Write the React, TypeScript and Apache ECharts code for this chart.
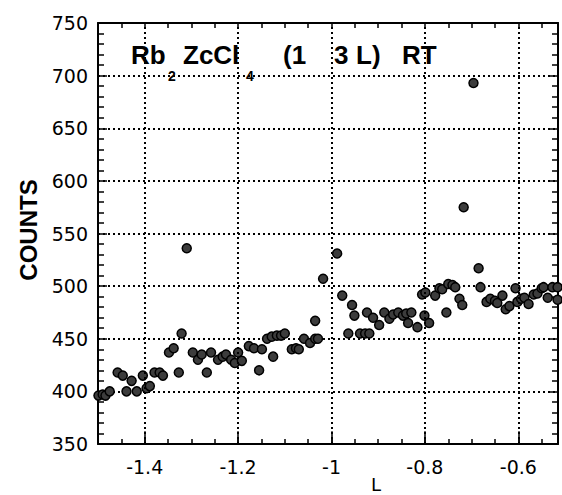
import React, { useEffect, useRef } from 'react';
import * as echarts from 'echarts';

const lValues = [
  -1.499, -1.49, -1.484, -1.475, -1.458, -1.447, -1.439, -1.428, -1.417, -1.404,
  -1.396, -1.389, -1.379, -1.368, -1.361, -1.348, -1.338, -1.327, -1.321, -1.31,
  -1.297, -1.286, -1.278, -1.267, -1.258, -1.243, -1.233, -1.226, -1.215, -1.207,
  -1.2, -1.192, -1.177, -1.166, -1.155, -1.149, -1.138, -1.128, -1.125, -1.117,
  -1.108, -1.1, -1.085, -1.076, -1.07, -1.059, -1.046, -1.035, -1.029, -1.035,
  -1.018, -0.988, -0.977, -0.956, -0.951, -0.964, -0.939, -0.928, -0.919, -0.924,
  -0.911, -0.898, -0.887, -0.876, -0.868, -0.857, -0.847, -0.84, -0.836, -0.829,
  -0.816, -0.806, -0.799, -0.801, -0.791, -0.778, -0.769, -0.763, -0.754, -0.75,
  -0.741, -0.735, -0.726, -0.72, -0.717, -0.696, -0.685, -0.681, -0.668, -0.66,
  -0.65, -0.645, -0.634, -0.627, -0.619, -0.606, -0.602, -0.594, -0.587, -0.578,
  -0.567, -0.559, -0.55, -0.546, -0.537, -0.527, -0.516, -0.516,
];

const counts = [
  396, 397, 396, 400, 418, 415, 400, 410, 400, 415,
  403, 405, 418, 418, 415, 437, 441, 418, 455, 536,
  437, 430, 435, 418, 437, 430, 433, 435, 430, 427,
  437, 429, 443, 441, 420, 440, 450, 452, 433, 453,
  453, 455, 440, 441, 440, 450, 446, 450, 450, 467,
  507, 531, 491, 482, 472, 455, 455, 455, 455, 475,
  470, 463, 475, 469, 473, 475, 472, 474, 465, 475,
  461, 492, 494, 472, 465, 491, 498, 497, 475, 502,
  501, 499, 488, 482, 575, 693, 517, 499, 485, 488,
  486, 484, 491, 478, 481, 498, 485, 488, 489, 483,
  492, 493, 498, 499, 489, 499, 499, 487,
];

const xTickLabels = [-1.4, -1.2, -1, -0.8, -0.6];
const X_MIN = -1.5;
const X_MAX = -0.515;
const Y_MIN = 350;
const Y_MAX = 750;
const Y_STEP = 50;
const X_STEP = 0.05;

export default function App() {
  const ref = useRef<HTMLDivElement>(null);

  useEffect(() => {
    document.body.style.margin = '0';
    const chart = echarts.init(ref.current!, null, { renderer: 'svg' });
    const isLabelTick = (v: number) => xTickLabels.some((t) => Math.abs(t - v) < 1e-6);
    const tickFont = { fontFamily: 'DejaVu Sans', fontSize: 19, color: '#000' };
    const black = '#000';
    const gridDot = { type: [2, 3] as any, width: 2, color: black };
    const titleFont = 'bold 26px "Liberation Sans", sans-serif';
    const subFont = 'bold 14px "Liberation Sans", sans-serif';

    const xBase = {
      type: 'value',
      min: X_MIN,
      max: X_MAX,
      interval: X_STEP,
      axisLine: { show: true, onZero: false, lineStyle: { color: black, width: 2 } },
      axisTick: { show: true, inside: true, length: 5, lineStyle: { color: black, width: 1.5 } },
      splitLine: { show: false },
    };
    const yBase = {
      type: 'value',
      min: Y_MIN,
      max: Y_MAX,
      interval: Y_STEP,
      axisLine: { show: true, onZero: false, lineStyle: { color: black, width: 2 } },
      axisTick: { show: true, inside: true, length: 9, lineStyle: { color: black, width: 1.5 } },
      minorTick: { show: true, splitNumber: 5, length: 6, lineStyle: { color: black, width: 1.5 } },
    };

    const data = lValues.map((l, i) => [l, counts[i]]);

    chart.setOption({
      animation: false,
      backgroundColor: '#fff',
      grid: { left: 98, right: 4, top: 23, bottom: 51, containLabel: false },
      xAxis: [
        {
          ...xBase,
          position: 'bottom',
          axisLabel: {
            ...tickFont,
            margin: 13,
            formatter: (v: number) => (isLabelTick(v) ? String(Math.round(v * 10) / 10) : ''),
          },
        },
        { ...xBase, position: 'top', axisLabel: { show: false } },
      ],
      yAxis: [
        {
          ...yBase,
          position: 'left',
          axisLabel: { ...tickFont, margin: 10 },
          splitLine: { show: true, showMinLine: false, showMaxLine: false, lineStyle: gridDot },
        },
        { ...yBase, position: 'right', axisLabel: { show: false }, splitLine: { show: false } },
      ],
      series: [
        {
          type: 'scatter',
          data,
          symbol: 'circle',
          symbolSize: 9,
          itemStyle: { color: '#3c3c3c', borderColor: '#000', borderWidth: 1.5, opacity: 1 },
          markLine: {
            silent: true,
            symbol: 'none',
            label: { show: false },
            emphasis: { disabled: true },
            data: [
              ...xTickLabels.map((v) => ({ xAxis: v, lineStyle: gridDot })),
              ...xTickLabels.map((v) => [
                { coord: [v, Y_MIN], lineStyle: { type: 'solid', width: 1.5, color: black } },
                { coord: [v, Y_MIN + 12] },
              ]),
            ],
          },
        },
      ],
      graphic: [
        {
          type: 'text',
          x: 28,
          y: 230,
          rotation: Math.PI / 2,
          style: {
            text: 'COUNTS',
            font: 'bold 24px "Liberation Sans", sans-serif',
            fill: black,
            textAlign: 'center',
            textVerticalAlign: 'middle',
          },
        },
        {
          type: 'text',
          x: 376,
          y: 484,
          style: {
            text: 'L',
            font: '18px "DejaVu Sans", sans-serif',
            fill: black,
            textAlign: 'center',
            textVerticalAlign: 'middle',
          },
        },
        { type: 'text', x: 131, y: 55, style: { text: 'Rb', font: titleFont, fill: black, textVerticalAlign: 'middle' } },
        { type: 'text', x: 168, y: 76, style: { text: '2', font: subFont, fill: black, textVerticalAlign: 'middle' } },
        { type: 'text', x: 183, y: 55, style: { text: 'ZcCl', font: titleFont, fill: black, textVerticalAlign: 'middle' } },
        { type: 'text', x: 246, y: 76, style: { text: '4', font: subFont, fill: black, textVerticalAlign: 'middle' } },
        { type: 'text', x: 283, y: 55, style: { text: '(1', font: titleFont, fill: black, textVerticalAlign: 'middle' } },
        { type: 'text', x: 334, y: 55, style: { text: '3', font: titleFont, fill: black, textVerticalAlign: 'middle' } },
        { type: 'text', x: 356, y: 55, style: { text: 'L)', font: titleFont, fill: black, textVerticalAlign: 'middle' } },
        { type: 'text', x: 402, y: 55, style: { text: 'RT', font: titleFont, fill: black, textVerticalAlign: 'middle' } },
      ],
    });

    return () => chart.dispose();
  }, []);

  return <div ref={ref} style={{ width: 562, height: 495 }} />;
}
